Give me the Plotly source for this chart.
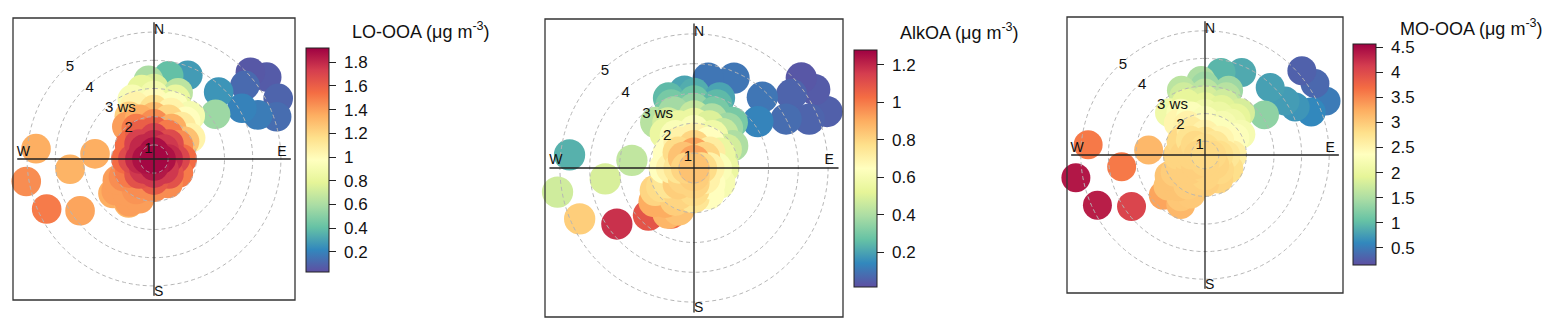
import numpy as np
import plotly.graph_objects as go

# LO-OOA polar plot: wind speed (ws), wind direction (wd, deg), concentration
# smooth core around the origin, one line per ws ring
lo_core_ws = [0.5,
              0.75, 0.75, 0.75, 0.75,
              1.0, 1.0, 1.0, 1.0, 1.0, 1.0, 1.0, 1.0,
              1.25, 1.25, 1.25, 1.25, 1.25, 1.25, 1.25, 1.25,
              1.5, 1.5, 1.5, 1.5, 1.5, 1.5, 1.5, 1.5, 1.5, 1.5, 1.5, 1.5,
              1.75, 1.75, 1.75, 1.75, 1.75, 1.75,
              2.0, 2.0, 2.0, 2.0, 2.0, 2.0, 2.0, 2.0, 2.0,
              2.25, 2.25, 2.25, 2.25, 2.25, 2.25,
              2.5, 2.5, 2.5, 2.5,
              2.75, 2.75, 2.75,
              3.0, 3.0, 3.0]
lo_core_wd = [0,
              0, 90, 180, 270,
              0, 45, 90, 135, 180, 225, 270, 315,
              0, 45, 90, 135, 180, 225, 270, 315,
              0, 30, 60, 90, 120, 150, 180, 210, 240, 270, 300, 330,
              0, 30, 60, 210, 240, 330,
              0, 20, 40, 60, 200, 220, 240, 320, 340,
              0, 20, 40, 210, 230, 330,
              0, 20, 40, 340,
              0, 20, 340,
              0, 20, 350]
lo_core_val = [1.9,
               1.88, 1.87, 1.85, 1.87,
               1.8, 1.75, 1.8, 1.75, 1.75, 1.75, 1.8, 1.8,
               1.72, 1.68, 1.7, 1.65, 1.62, 1.65, 1.68, 1.72,
               1.6, 1.5, 1.45, 1.55, 1.5, 1.45, 1.45, 1.45, 1.5, 1.55, 1.55, 1.6,
               1.45, 1.35, 1.28, 1.43, 1.45, 1.5,
               1.3, 1.2, 1.1, 1.05, 1.4, 1.4, 1.4, 1.4, 1.35,
               1.15, 1.05, 0.98, 1.4, 1.4, 1.22,
               1.0, 0.95, 0.9, 1.05,
               0.88, 0.82, 0.92,
               0.75, 0.65, 0.8]
# separate blobs further out
lo_blob_ws = [3.3, 3.5, 3.7, 3.8, 3.2, 5.1, 5.44, 5.4, 5.1, 4.65, 4.1, 4.5,
              4.7, 5.1, 3.5, 2.6, 4.7, 3.7, 2.4, 2.3]
lo_blob_wd = [356, 10, 22, 44, 54, 48, 54, 64, 71, 51, 60, 67,
              275, 260, 263, 275, 245, 235, 230, 210]
lo_blob_val = [0.6, 0.4, 0.28, 0.26, 0.56, 0.06, 0.07, 0.1, 0.13, 0.12, 0.2, 0.18,
               1.35, 1.45, 1.33, 1.35, 1.5, 1.38, 1.35, 1.32]

# AlkOA
alk_core_ws = [0.5,
               0.75, 0.75, 0.75, 0.75,
               1.0, 1.0, 1.0, 1.0, 1.0, 1.0, 1.0, 1.0,
               1.25, 1.25, 1.25, 1.25, 1.25, 1.25, 1.25, 1.25,
               1.5, 1.5, 1.5, 1.5, 1.5, 1.5, 1.5, 1.5, 1.5, 1.5, 1.5, 1.5,
               1.75, 1.75, 1.75, 1.75, 1.75, 1.75,
               2.0, 2.0, 2.0, 2.0, 2.0, 2.0, 2.0, 2.0, 2.0,
               2.25, 2.25, 2.25, 2.25, 2.25, 2.25,
               2.5, 2.5, 2.5, 2.5, 2.5,
               2.75, 2.75, 2.75,
               3.0, 3.0, 3.0]
alk_core_wd = [0,
               0, 90, 180, 270,
               0, 45, 90, 135, 180, 225, 270, 315,
               0, 45, 90, 135, 180, 225, 270, 315,
               0, 30, 60, 90, 120, 150, 180, 210, 240, 270, 300, 330,
               0, 30, 60, 210, 240, 330,
               0, 20, 40, 60, 200, 220, 240, 320, 340,
               0, 20, 40, 210, 230, 330,
               0, 20, 40, 320, 340,
               0, 20, 340,
               0, 20, 340]
alk_core_val = [0.85,
                0.92, 0.78, 0.82, 0.8,
                0.92, 0.8, 0.7, 0.7, 0.8, 0.8, 0.75, 0.85,
                0.8, 0.72, 0.62, 0.65, 0.78, 0.82, 0.7, 0.78,
                0.7, 0.65, 0.55, 0.55, 0.6, 0.65, 0.75, 0.8, 0.75, 0.65, 0.65, 0.7,
                0.62, 0.57, 0.48, 0.82, 0.78, 0.62,
                0.55, 0.5, 0.45, 0.4, 0.85, 0.9, 0.8, 0.55, 0.55,
                0.45, 0.4, 0.37, 0.88, 0.9, 0.48,
                0.35, 0.3, 0.3, 0.42, 0.38,
                0.28, 0.25, 0.3,
                0.22, 0.2, 0.25]
alk_blob_ws = [3.1, 3.55, 3.8, 3.8, 3.15, 4.0, 4.6, 5.2, 5.33, 5.35, 4.7,
               4.7, 5.15, 3.5, 2.6, 4.7, 3.7, 2.7, 2.2]
alk_blob_wd = [353, 9, 24, 44, 54, 62, 53, 50, 57, 67, 67,
               276, 260, 263, 277, 246, 234, 224, 207]
alk_blob_val = [0.2, 0.1, 0.1, 0.1, 0.13, 0.08, 0.06, 0.03, 0.04, 0.05, 0.06,
                0.23, 0.47, 0.49, 0.44, 0.82, 1.18, 1.09, 1.04]

# MO-OOA
mo_core_ws = [0.5,
              0.75, 0.75, 0.75, 0.75,
              1.0, 1.0, 1.0, 1.0, 1.0, 1.0, 1.0, 1.0,
              1.25, 1.25, 1.25, 1.25, 1.25, 1.25, 1.25, 1.25,
              1.5, 1.5, 1.5, 1.5, 1.5, 1.5, 1.5, 1.5, 1.5, 1.5, 1.5, 1.5,
              1.75, 1.75, 1.75, 1.75, 1.75, 1.75,
              2.0, 2.0, 2.0, 2.0, 2.0, 2.0, 2.0, 2.0, 2.0,
              2.25, 2.25, 2.25, 2.25, 2.25, 2.25,
              2.5, 2.5, 2.5, 2.5, 2.5,
              2.75, 2.75, 2.75,
              3.0, 3.0, 3.0]
mo_core_wd = [0,
              0, 90, 180, 270,
              0, 45, 90, 135, 180, 225, 270, 315,
              0, 45, 90, 135, 180, 225, 270, 315,
              0, 30, 60, 90, 120, 150, 180, 210, 240, 270, 300, 330,
              0, 30, 60, 210, 240, 330,
              0, 20, 40, 60, 200, 220, 240, 320, 340,
              0, 20, 40, 210, 230, 330,
              0, 20, 40, 320, 340,
              0, 20, 340,
              0, 20, 340]
mo_core_val = [2.85,
               2.8, 2.85, 2.9, 2.9,
               2.75, 2.7, 2.8, 2.9, 2.9, 2.95, 2.9, 2.85,
               2.55, 2.5, 2.7, 2.85, 2.9, 2.95, 2.9, 2.75,
               2.4, 2.3, 2.4, 2.6, 2.8, 2.9, 2.95, 2.95, 2.95, 2.9, 2.85, 2.65,
               2.25, 2.2, 2.3, 2.97, 2.97, 2.55,
               2.1, 2.05, 2.1, 2.2, 3.0, 3.05, 3.05, 2.5, 2.3,
               1.95, 1.9, 1.95, 3.02, 3.05, 2.25,
               1.8, 1.75, 1.8, 2.1, 1.95,
               1.6, 1.58, 1.75,
               1.4, 1.4, 1.6]
mo_blob_ws = [3.2, 3.55, 3.77, 3.9, 3.1, 4.0, 5.15, 5.25, 5.3, 4.2, 4.65,
              4.75, 2.55, 3.55, 5.25, 4.8, 3.75, 2.6, 2.5]
mo_blob_wd = [357, 11, 24, 44, 56, 56, 49, 57, 66, 62, 68,
              275, 275, 262, 260, 245, 235, 226, 206]
mo_blob_val = [1.5, 0.95, 0.85, 0.78, 1.3, 0.75, 0.3, 0.35, 0.5, 0.7, 0.6,
               3.6, 3.15, 3.6, 4.4, 4.35, 4.05, 3.3, 3.15]

ring_ws = [1, 2, 3, 4, 5]
ring_text = ['1', '2', '3 ws', '4', '5']

spectral = ['#5E4FA2', '#3288BD', '#66C2A5', '#ABDDA4', '#E6F598', '#FFFFBF',
            '#FEE08B', '#FDAE61', '#F46D43', '#D53E4F', '#9E0142']
cscale = [[i / 10, c] for i, c in enumerate(spectral)]

W, H = 1556, 332
FONT = 'Liberation Sans, Arial, sans-serif'

panels = [
    dict(core=(lo_core_ws, lo_core_wd, lo_core_val),
         blob=(lo_blob_ws, lo_blob_wd, lo_blob_val), box=(13, 18, 295, 300),
         cmin=0.03, cmax=1.92, tick0=0.2, dtick=0.2,
         cbar=(306, 48, 272), title='LO-OOA (μg m<sup>-3</sup>)', tpos=(350, 30)),
    dict(core=(alk_core_ws, alk_core_wd, alk_core_val),
         blob=(alk_blob_ws, alk_blob_wd, alk_blob_val), box=(545, 19, 843, 317),
         cmin=0.013, cmax=1.28, tick0=0.2, dtick=0.2,
         cbar=(854, 50, 287), title='AlkOA (μg m<sup>-3</sup>)', tpos=(898, 31)),
    dict(core=(mo_core_ws, mo_core_wd, mo_core_val),
         blob=(mo_blob_ws, mo_blob_wd, mo_blob_val), box=(1067, 17, 1343, 293),
         cmin=0.16, cmax=4.56, tick0=0.5, dtick=0.5,
         cbar=(1353, 44, 265), title='MO-OOA (μg m<sup>-3</sup>)', tpos=(1398, 28)),
]

fig = go.Figure()
th = np.linspace(0, 360, 241)


def add_points(fig, data, sub, cax, size):
    ws = np.array(data[0], dtype=float)
    order = np.argsort(-ws, kind='stable')  # outer first, centre on top
    fig.add_trace(go.Scatterpolar(
        r=ws[order], theta=np.array(data[1])[order], mode='markers',
        marker=dict(size=size, color=np.array(data[2])[order],
                    coloraxis=cax, line=dict(width=0)),
        subplot=sub, hoverinfo='skip', showlegend=False))


for i, p in enumerate(panels):
    k = '' if i == 0 else str(i + 1)
    sub = 'polar' + k
    cax = 'coloraxis' + k
    x0, y0, x1, y1 = p['box']
    unit = (x1 - x0) / 10.0

    add_points(fig, p['blob'], sub, cax, unit * 1.05)
    add_points(fig, p['core'], sub, cax, unit * 1.05)

    # dashed ws rings drawn above the surface
    for r in ring_ws:
        fig.add_trace(go.Scatterpolar(
            r=np.full(th.size, r), theta=th, mode='lines', subplot=sub,
            line=dict(color='#b5b5b5', width=1, dash='4px,3px'),
            hoverinfo='skip', showlegend=False))

    # N-S and E-W lines
    fig.add_trace(go.Scatterpolar(
        r=[5.35, 0.5, 5.35, None, 5.35, 0.5, 5.35],
        theta=[0, 0, 180, None, 90, 90, 270], mode='lines', subplot=sub,
        line=dict(color='#222222', width=1.3), cliponaxis=False,
        hoverinfo='skip', showlegend=False))

    fig.add_trace(go.Scatterpolar(
        r=ring_ws, theta=[316] * 5, mode='text', text=ring_text,
        textposition='middle right', subplot=sub, cliponaxis=False,
        textfont=dict(family=FONT, size=15, color='#111111'),
        hoverinfo='skip', showlegend=False))
    fig.add_trace(go.Scatterpolar(
        r=[5.04, 5.22], theta=[0, 180], mode='text', text=['N', 'S'],
        textposition='middle right', subplot=sub, cliponaxis=False,
        textfont=dict(family=FONT, size=14, color='#111111'),
        hoverinfo='skip', showlegend=False))
    fig.add_trace(go.Scatterpolar(
        r=[5.04, 5.14], theta=[87, 273], mode='text', text=['E', 'W'],
        textposition='middle center', subplot=sub, cliponaxis=False,
        textfont=dict(family=FONT, size=14, color='#111111'),
        hoverinfo='skip', showlegend=False))

    fig.update_layout(**{
        sub: dict(
            domain=dict(x=[x0 / W, x1 / W], y=[1 - y1 / H, 1 - y0 / H]),
            bgcolor='white',
            radialaxis=dict(range=[0.5, 5.5], visible=False),
            angularaxis=dict(direction='clockwise', rotation=90, visible=False)),
    })

    bx, by0, by1 = p['cbar']
    fig.update_layout(**{
        cax: dict(
            colorscale=cscale, cmin=p['cmin'], cmax=p['cmax'],
            colorbar=dict(
                x=bx / W, xanchor='left', xpad=0, ypad=0,
                y=1 - (by0 + by1) / 2 / H, yanchor='middle',
                lenmode='pixels', len=by1 - by0,
                thicknessmode='pixels', thickness=23,
                outlinewidth=1, outlinecolor='#222222',
                ticks='outside', ticklen=7, tickcolor='#222222', tickwidth=1,
                tick0=p['tick0'], dtick=p['dtick'], tickprefix=' ',
                tickfont=dict(family=FONT, size=17, color='#111111'))),
    })

    fig.add_shape(type='rect', xref='paper', yref='paper',
                  x0=x0 / W, x1=x1 / W, y0=1 - y1 / H, y1=1 - y0 / H,
                  line=dict(color='#333333', width=1.3))
    tx, ty = p['tpos']
    fig.add_annotation(x=tx / W, y=1 - ty / H, xref='paper', yref='paper',
                       xanchor='left', yanchor='middle', showarrow=False,
                       text=p['title'],
                       font=dict(family=FONT, size=18, color='#111111'))

fig.update_layout(width=W, height=H, margin=dict(l=0, r=0, t=0, b=0),
                  paper_bgcolor='white', plot_bgcolor='white')

fig.write_html("out.html", config={'displayModeBar': False},
               post_script="document.body.style.margin='0px';")
